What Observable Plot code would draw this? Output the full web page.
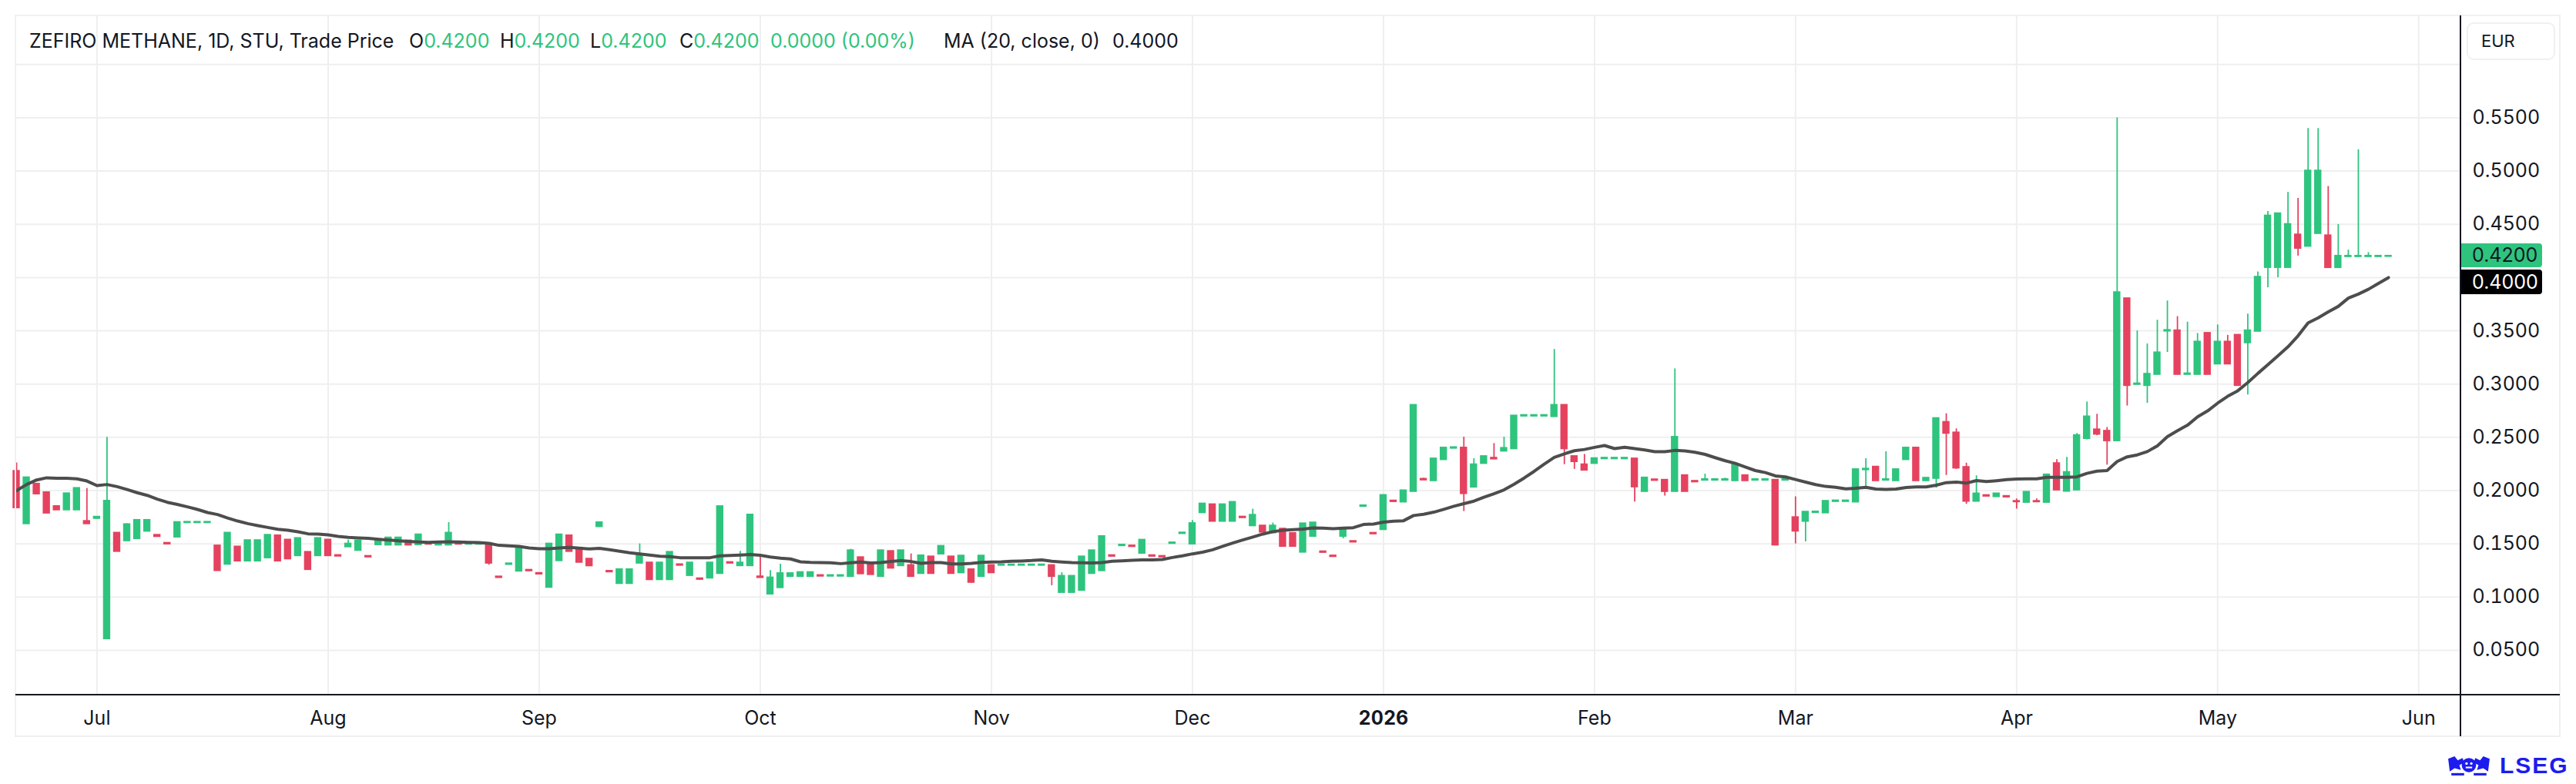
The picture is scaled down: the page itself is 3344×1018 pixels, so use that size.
<!DOCTYPE html>
<html><head><meta charset="utf-8">
<script src="https://cdn.jsdelivr.net/npm/d3@7"></script>
<script src="https://cdn.jsdelivr.net/npm/@observablehq/plot@0.6"></script>
<style>
html,body{margin:0;padding:0;background:#fff;}
#wrap{position:relative;width:3344px;height:1018px;overflow:hidden;font-family:Inter,"Noto Sans",sans-serif;color:#131722;}
#wrap svg{position:absolute;left:0;top:0;}
.abs{position:absolute;white-space:nowrap;}
.hdr{font-size:25px;line-height:30px;top:38px;}
.g{color:#2ec47e;}
</style></head><body><div id="wrap"></div>
<script>
// ---- data (one value per trading day, Jun 19 2025 .. May 2026) ----
const open = [
.218,.169,.206,.198,.185,.182,.182,.171,.174,.061,
.160,.153,.155,.162,.158,.1505,.1565,.170,.170,.170,
.148,.131,.147,.134,.134,.137,.1575,.1535,.139,.142,
.139,.1535,.139,.1473,.144,.1382,.1493,.149,.149,.1527,
.1493,.1502,.149,.149,.1502,.1498,.1498,.1498,.1189,.1308,
.1245,.1252,.1222,.1093,.1343,.1575,.1454,.1356,.1663,.1242,
.1129,.1129,.132,.132,.1165,.1165,.1304,.1204,.1172,.118,
.1223,.1324,.1296,.1296,.119,.103,.109,.1195,.1195,.1195,
.1202,.1198,.1198,.1195,.137,.131,.1195,.1428,.1296,.1296,
.1223,.1377,.1406,.1377,.123,.1257,.1195,.1296,.130,.130,
.130,.130,.130,.1296,.1045,.1045,.1065,.1223,.1249,.1389,
.1484,.148,.1413,.1389,.1382,.1505,.1598,.150,.1794,.1867,
.1713,.1713,.1751,.1671,.1667,.1604,.1638,.1597,.1423,.1572,
.1425,.1386,.1572,.1522,.1853,.1599,.1635,.1902,.1894,.1993,
.2106,.2094,.2292,.2399,.2399,.2034,.2256,.2304,.2372,.2394,
.2701,.2701,.2701,.2696,.280,.2319,.2242,.2256,.230,.230,
.230,.2297,.1993,.2101,.2097,.1993,.214,.2087,.2099,.2099,
.2099,.2094,.214,.2099,.2099,.2097,.2099,.1746,.1713,.1795,
.1792,.1899,.1899,.1894,.2197,.222,.2099,.2094,.2292,.2399,
.2094,.2116,.264,.2541,.2217,.1901,.1953,.1944,.1945,.1898,
.1891,.1898,.1891,.2253,.1995,.2007,.249,.257,.2557,.2469,
.3801,.2998,.2988,.3092,.3499,.350,.3092,.3092,.3476,.319,
.3394,.3458,.3389,.3497,.4096,.4096,.4096,.440,.4295,.4415,
.4392,.4095,.4198,.4198,.4198,.4198,.420];
const high = [
.226,.212,.206,.198,.185,.197,.202,.202,.175,.250,
.160,.169,.172,.172,.158,.1505,.170,.1702,.1702,.1702,
.148,.160,.147,.153,.153,.158,.1575,.1535,.155,.142,
.155,.1535,.139,.1536,.1527,.1382,.153,.1555,.1555,.1527,
.1584,.1502,.151,.170,.1502,.1502,.1502,.1498,.1189,.1312,
.146,.1252,.1222,.1498,.1584,.1575,.1454,.1356,.1698,.1242,
.1257,.1257,.150,.132,.132,.142,.1304,.132,.1172,.132,
.1849,.1324,.143,.177,.140,.125,.131,.122,.123,.123,
.1202,.1202,.1202,.145,.137,.131,.1435,.1428,.1435,.1406,
.1387,.1377,.1476,.1377,.1385,.1257,.1385,.1296,.1302,.1302,
.1302,.1302,.1302,.1296,.123,.1195,.1377,.1435,.1568,.1389,
.1488,.148,.1534,.1389,.1382,.1509,.1602,.172,.1874,.1867,
.1867,.1889,.1751,.1826,.1667,.1696,.1638,.1597,.1688,.1696,
.1425,.1386,.1638,.1522,.1857,.1599,.1954,.1902,.1998,.280,
.2118,.2297,.2399,.2403,.2502,.230,.2319,.2442,.2502,.270,
.2705,.2705,.2705,.3326,.280,.2319,.234,.230,.2304,.2304,
.2304,.2297,.2118,.2101,.2097,.3143,.214,.2087,.2155,.2103,
.2118,.2242,.214,.2103,.2103,.2097,.2103,.1942,.1797,.1799,
.1899,.1903,.1903,.2196,.230,.222,.2365,.2196,.2399,.2399,
.2116,.2676,.2722,.258,.2258,.214,.1953,.1969,.1945,.1922,
.1984,.1922,.2147,.2291,.2312,.2537,.2833,.2717,.2593,.550,
.3801,.350,.3378,.360,.3781,.3634,.3582,.3476,.3476,.3556,
.3458,.3458,.3657,.4054,.4622,.4599,.480,.4744,.540,.540,
.4856,.4499,.4258,.520,.4235,.420,.420];
const low = [
.184,.169,.197,.179,.182,.182,.182,.169,.174,.061,
.143,.153,.155,.162,.157,.150,.1565,.170,.170,.170,
.125,.131,.134,.134,.134,.137,.134,.136,.139,.126,
.139,.139,.1386,.1473,.144,.1378,.1493,.149,.149,.149,
.1493,.1498,.149,.149,.1498,.1498,.1498,.130,.1185,.1308,
.1245,.1248,.1218,.1093,.1343,.143,.1328,.1295,.1663,.1238,
.1129,.1129,.132,.1165,.1165,.1165,.130,.1204,.116,.118,
.1223,.132,.1296,.1296,.1185,.103,.109,.1195,.1195,.1195,
.1198,.1198,.1198,.1195,.122,.1213,.1195,.1273,.1296,.1195,
.1223,.1223,.1406,.1223,.123,.113,.1195,.123,.130,.130,
.130,.130,.130,.1108,.1045,.1045,.1065,.1223,.1249,.1385,
.1484,.1476,.1413,.1385,.1378,.1505,.1598,.150,.1794,.1713,
.1713,.1713,.1747,.1671,.1611,.1604,.1478,.1478,.1423,.1572,
.1421,.1382,.1548,.1518,.1853,.1595,.1635,.1898,.1894,.1993,
.2101,.2094,.2292,.2399,.1804,.2034,.2256,.2298,.2372,.2394,
.2701,.2701,.2701,.2696,.2244,.220,.2193,.2256,.230,.230,
.230,.1894,.1993,.2097,.1949,.1993,.1993,.2083,.2099,.2099,
.2099,.2094,.2094,.2099,.2099,.149,.2099,.150,.1519,.1795,
.1792,.1899,.1899,.1894,.2034,.2094,.2099,.2094,.2292,.2094,
.2094,.2022,.2143,.220,.1872,.1901,.1949,.1944,.1941,.1827,
.1891,.1896,.1891,.200,.1995,.2007,.2477,.2516,.224,.2469,
.2795,.2998,.282,.3092,.3298,.3092,.3092,.3092,.3092,.319,
.319,.2988,.2898,.3497,.3905,.400,.4096,.4202,.4295,.4415,
.4095,.4095,.4198,.4198,.4198,.4198,.420];
const close = [
.184,.212,.197,.179,.182,.197,.202,.169,.175,.190,
.143,.168,.172,.172,.157,.150,.170,.1702,.1702,.1702,
.125,.160,.134,.153,.153,.158,.134,.136,.155,.126,
.155,.139,.1386,.1498,.1527,.1378,.153,.1555,.1555,.149,
.1584,.1498,.151,.160,.1498,.1502,.1502,.132,.1185,.1312,
.146,.1248,.1218,.1498,.1584,.143,.1328,.1295,.1698,.1238,
.1257,.1257,.1387,.1165,.132,.142,.130,.132,.1168,.132,
.1849,.132,.132,.177,.1185,.118,.122,.122,.123,.123,
.1198,.1202,.1202,.1435,.122,.1213,.1435,.1273,.1435,.1195,
.1387,.1223,.1476,.1223,.1385,.114,.1385,.123,.1302,.1302,
.1302,.1302,.1302,.1195,.1195,.1195,.1377,.1435,.1568,.1385,
.1488,.1476,.1534,.1385,.1378,.1509,.1602,.169,.1874,.1713,
.1867,.1889,.1747,.1768,.1611,.1667,.1478,.1478,.1688,.1696,
.1421,.1382,.1638,.1518,.1857,.1595,.1954,.1898,.1998,.280,
.2101,.2297,.2399,.2403,.1973,.2242,.2319,.2298,.2396,.270,
.2705,.2705,.2705,.280,.2394,.2273,.2193,.230,.2304,.2304,
.2304,.2036,.2118,.2097,.1993,.250,.1993,.2083,.2103,.2103,
.2103,.2242,.2094,.2103,.2103,.149,.2103,.1621,.1797,.1799,
.1899,.1903,.1903,.2196,.2201,.2094,.2103,.2196,.2399,.2094,
.2116,.2676,.2539,.2213,.1901,.1969,.1949,.1969,.1941,.1896,
.1984,.1896,.2147,.2007,.217,.2516,.2692,.2531,.2469,.3858,
.2988,.3002,.3092,.3293,.3503,.3092,.3096,.3394,.3092,.3394,
.319,.2988,.350,.4003,.4578,.4599,.4498,.4276,.500,.500,
.4095,.420,.420,.420,.420,.420,.420];
const ma20 = [
.200,.2057,.210,.212,.2115,.2115,.211,.209,.2047,.2057,
.2037,.201,.198,.1955,.192,.189,.187,.1847,.1823,.1794,
.1775,.1743,.1714,.169,.1671,.1654,.1637,.1628,.1613,.1594,
.1592,.1584,.157,.156,.1555,.1551,.1543,.1536,.1529,.1522,
.1517,.1514,.1517,.152,.1517,.1514,.1512,.1505,.1486,.1481,
.1476,.1461,.1454,.1454,.1461,.1466,.1459,.1452,.1457,.1445,
.143,.1416,.1406,.1394,.1384,.138,.137,.137,.137,.137,
.1387,.139,.1394,.140,.1392,.1377,.1365,.1358,.1331,.1326,
.1324,.1322,.1314,.1322,.1329,.132,.1324,.1334,.1343,.1334,
.1317,.1324,.1324,.1312,.1312,.1317,.1326,.1329,.1331,.1336,
.1339,.1343,.135,.1336,.1329,.1324,.1322,.132,.1324,.1336,
.1341,.1346,.135,.135,.1353,.1372,.1387,.1406,.1422,.1444,
.1476,.1507,.1536,.1563,.1592,.1614,.1628,.1633,.1638,.165,
.1647,.1643,.1647,.1652,.1681,.1686,.1703,.1713,.1717,.1766,
.1778,.1797,.1824,.1853,.1877,.1901,.1937,.1971,.2007,.206,
.2118,.2181,.2249,.2312,.2345,.2374,.2386,.2406,.2423,.2394,
.2406,.2394,.2382,.2365,.2365,.2377,.2372,.236,.234,.2309,
.228,.2256,.2222,.2188,.2169,.2138,.2128,.2104,.208,.2056,
.2039,.2031,.2017,.2022,.2031,.2014,.201,.2014,.2029,.2034,
.2034,.2051,.2075,.208,.207,.2094,.2085,.2093,.2103,.2108,
.2111,.2111,.2124,.2124,.2124,.2129,.2162,.2183,.2188,.2273,
.2317,.2335,.2366,.242,.2506,.2562,.2614,.2692,.2748,.2821,
.2885,.2937,.3014,.310,.3182,.3265,.335,.3453,.3574,.3621,
.3678,.3729,.3807,.3845,.389,.3945,.400];
// month boundaries (trading-day index) and their labels
const monthIdx = [8,31,52,74,97,117,136,157,177,199,219,239];
const monthLabels = ["Jul","Aug","Sep","Oct","Nov","Dec","2026","Feb","Mar","Apr","May","Jun"];
// 0.4000 label is hidden behind the price tags in the reference
const yTicks = [0.05,0.10,0.15,0.20,0.25,0.30,0.35,0.45,0.50,0.55];
const yGrid = [0.05,0.10,0.15,0.20,0.25,0.30,0.35,0.40,0.45,0.50,0.55,0.60];

const GREEN = "#2ec47e", RED = "#e5425f";
const bars = open.map((o, i) => ({i, open: o, high: high[i], low: low[i], close: close[i], ma: ma20[i],
  col: close[i] >= o ? GREEN : RED}));

const chart = Plot.plot({
  width: 3344, height: 1018,
  marginLeft: 20, marginRight: 151, marginTop: 20, marginBottom: 116,
  style: {fontFamily: "Inter, 'Noto Sans', sans-serif", fontSize: "25px", color: "#131722", background: "transparent"},
  color: {type: "identity"},
  x: {domain: [-0.0766, 243.12], ticks: monthIdx, tickFormat: d => monthLabels[monthIdx.indexOf(d)],
      tickSize: 0, tickPadding: 21, label: null},
  y: {domain: [0.00803, 0.64577], ticks: yTicks, tickFormat: d3.format(".4f"), axis: "right",
      tickSize: 0, tickPadding: 16, label: null},
  marks: [
    Plot.ruleX(monthIdx, {stroke: "#efefef", strokeWidth: 2}),
    Plot.ruleY(yGrid, {stroke: "#efefef", strokeWidth: 2}),
    Plot.ruleX(bars, {x: "i", y1: "low", y2: "high", stroke: "col", strokeWidth: 1.8}),
    Plot.rect(bars, {x1: d => d.i - 0.36, x2: d => d.i + 0.36, y1: "open", y2: "close", fill: "col",
      insetTop: -1.3, insetBottom: -1.3}),
    Plot.line(bars, {x: "i", y: "ma", stroke: "#4d4d4d", strokeWidth: 4, curve: "linear", strokeLinejoin: "round"})
  ]
});
d3.select(chart).selectAll("text").filter(function(){ return this.textContent === "2026"; })
  .attr("font-weight", "bold");

const wrap = document.getElementById("wrap");
wrap.appendChild(chart);

function div(cls, style, html){ const e = document.createElement("div"); e.className = "abs " + (cls||""); Object.assign(e.style, style); if (html !== undefined) e.innerHTML = html; wrap.appendChild(e); return e; }

// panel frame and axis lines
div("", {left:"19px", top:"19px", width:"3305px", height:"938px", border:"2px solid #f0f0f0", boxSizing:"border-box"});
div("", {left:"3193px", top:"20px", width:"2px", height:"936px", background:"#131722"});
div("", {left:"20px", top:"901px", width:"3303px", height:"2px", background:"#131722"});

// header
const last = bars[bars.length - 1];
const f4 = d3.format(".4f");
div("hdr", {left:"38px"}, "ZEFIRO METHANE, 1D, STU, Trade Price");
div("hdr", {left:"531px"}, "O<span class='g'>" + f4(last.open) + "</span>");
div("hdr", {left:"649px"}, "H<span class='g'>" + f4(last.high) + "</span>");
div("hdr", {left:"766px"}, "L<span class='g'>" + f4(last.low) + "</span>");
div("hdr", {left:"882px"}, "C<span class='g'>" + f4(last.close) + "</span>");
div("hdr g", {left:"1000px"}, "0.0000 (0.00%)");
div("hdr", {left:"1225px"}, "MA (20, close, 0)");
div("hdr", {left:"1444px"}, f4(last.ma));

// currency box
div("", {left:"3202px", top:"29px", width:"115px", height:"49px", border:"2px solid #f0f0f0", borderRadius:"9px",
  boxSizing:"border-box", fontSize:"22px", lineHeight:"45px", paddingLeft:"17px"}, "EUR");

// last price / MA tags
const ys = chart.scale("y");
const yc = ys.apply(last.close), ym = ys.apply(last.ma);
const gTop = yc - 16;
div("", {left:"3195px", top: gTop + "px", width:"105px", height:"31px", background:GREEN, borderRadius:"0 4px 4px 0",
  fontSize:"25px", lineHeight:"31px", paddingLeft:"14px", boxSizing:"border-box", color:"#131722"}, f4(last.close));
const mTop = Math.max(ym - 16, gTop + 34);
div("", {left:"3195px", top: mTop + "px", width:"105px", height:"32px", background:"#000", borderRadius:"0 4px 4px 0",
  fontSize:"25px", lineHeight:"32px", paddingLeft:"14px", boxSizing:"border-box", color:"#fff"}, f4(last.ma));

// LSEG logo
div("", {left:"3176px", top:"981px", width:"58px", height:"28px"},
  '<svg width="58" height="28" viewBox="0 0 56 27"><g fill="#1c1cf0">' +
  '<path d="M2 4 L10 1 L14 6 L20 3 L22 9 L16 12 L18 18 L10 16 L4 20 L3 12 Z"/>' +
  '<path d="M54 4 L46 1 L42 6 L36 3 L34 9 L40 12 L38 18 L46 16 L52 20 L53 12 Z"/>' +
  '<ellipse cx="28" cy="12" rx="9" ry="9"/>' +
  '<rect x="6" y="22" width="16" height="3"/><rect x="34" y="22" width="16" height="3"/></g>' +
  '<g fill="#fff"><circle cx="25" cy="10" r="1.6"/><circle cx="31" cy="10" r="1.6"/><rect x="24" y="14" width="8" height="2"/></g></svg>');
div("", {left:"3245px", top:"977px", fontSize:"30px", lineHeight:"34px", fontWeight:"800", letterSpacing:"2px",
  color:"#1c1cf0", fontFamily:"'Liberation Sans', Arial, sans-serif"}, "LSEG");
</script></body></html>
